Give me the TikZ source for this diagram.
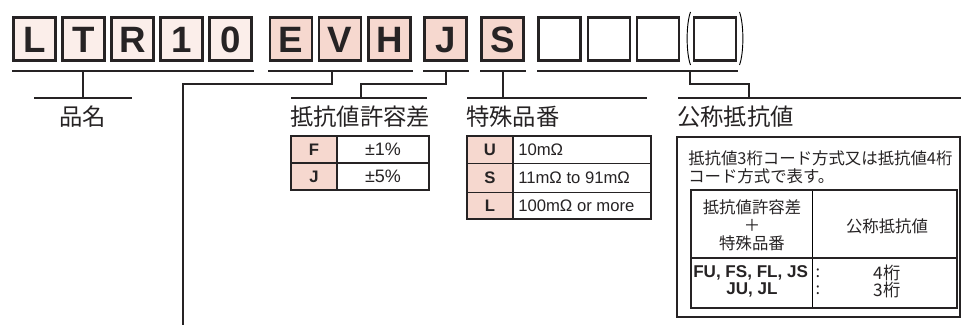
\documentclass[tikz,border=0pt]{standalone}
\usepackage{fontspec}
\setmainfont{Liberation Sans}
\newfontfamily\jp{Noto Sans CJK JP}
\definecolor{pinkA}{HTML}{FBEEEA}
\definecolor{pinkB}{HTML}{F6D8CF}
\definecolor{ink}{HTML}{262324}
\definecolor{thin}{HTML}{8A8A8A}
\begin{document}
\begin{tikzpicture}[x=0.75pt,y=-0.75pt,
  every node/.style={text=ink},
  tb/.style={draw=ink, line width=2.1pt, minimum width=31.6pt, minimum height=32.3pt,
    inner sep=0pt, font=\bfseries\fontsize{27.5}{27.5}\selectfont, text height=19.7pt, text depth=0pt},
  lite/.style={tb, fill=pinkA},
  dark/.style={tb, fill=pinkB},
  empt/.style={tb, fill=white},
  bar/.style={draw=ink, line width=2.1pt},
  conn/.style={draw=ink, line width=1.7pt},
  lab/.style={font=\jp\fontsize{17.5}{17.5}\selectfont, inner sep=0pt},
  cellb/.style={font=\bfseries\fontsize{12.5}{12.5}\selectfont, inner sep=0pt},
  cell/.style={font=\fontsize{12.5}{12.5}\selectfont, inner sep=0pt},
  jps/.style={font=\jp\fontsize{12.3}{12.3}\selectfont, inner sep=0pt},
  tabout/.style={draw=ink, line width=1.5pt},
  tabin/.style={draw=ink, line width=1pt}]
\useasboundingbox (0,0) rectangle (961,327);

% code boxes
\node[lite] (bL) at (34.5,39) {L};
\node[lite] (bT) at (83.5,39) {T};
\node[lite] (bR) at (132.5,39) {R};
\node[lite] (b1) at (181.5,39) {1};
\node[lite] (b0) at (230.5,39) {0};
\node[dark] (bE) at (291,39) {E};
\node[dark] (bV) at (340,39) {V};
\node[dark] (bH) at (389.5,39) {H};
\node[dark] (bJ) at (445.5,39) {J};
\node[dark] (bS) at (502.5,39) {S};
\node[empt] (n1) at (559.5,39) {};
\node[empt] (n2) at (609,39) {};
\node[empt] (n3) at (658,39) {};
\node[empt] (n4) at (715,39) {};
% parentheses
\draw[thin, line width=0.7pt] (690.5,12) .. controls (686,24) and (686,53) .. (690.5,65);
\draw[thin, line width=0.7pt] (739.5,12) .. controls (744,24) and (744,53) .. (739.5,65);

% coordinates
\coordinate (u1a) at (12,71);  \coordinate (u1b) at (254,71);
\coordinate (u2a) at (268,71); \coordinate (u2b) at (413,71);
\coordinate (u3a) at (423,71); \coordinate (u3b) at (469,71);
\coordinate (u4a) at (480,71); \coordinate (u4b) at (526,71);
\coordinate (u5a) at (537,71); \coordinate (u5b) at (738,71);
\coordinate (s1) at (83,71);  \coordinate (s1e) at (83,98);
\coordinate (l1a) at (34,98); \coordinate (l1b) at (132,98);
\coordinate (s2) at (332,71); \coordinate (s2e) at (183,325);
\coordinate (s3) at (446,71); \coordinate (s3e) at (361,98);
\coordinate (l3a) at (291,98); \coordinate (l3b) at (427,98);
\coordinate (s4) at (503,71); \coordinate (s4e) at (503,98);
\coordinate (l4a) at (467,98); \coordinate (l4b) at (647,98);
\coordinate (s5) at (690,71); \coordinate (s5e) at (749,98);
\coordinate (l5a) at (678,98); \coordinate (l5b) at (961,98);

\draw[bar] (u1a) -- (u1b);
\draw[bar] (u2a) -- (u2b);
\draw[bar] (u3a) -- (u3b);
\draw[bar] (u4a) -- (u4b);
\draw[bar] (u5a) -- (u5b);
\draw[bar] (l1a) -- (l1b);
\draw[bar] (l3a) -- (l3b);
\draw[bar] (l4a) -- (l4b);
\draw[bar] (l5a) -- (l5b);
\draw[conn] (s1) -- (s1e);
\draw[conn] (s2) -- (332,84) -- (183,84) -- (s2e);
\draw[conn] (s3) -- (446,84) -- (361,84) -- (s3e);
\draw[conn] (s4) -- (s4e);
\draw[conn] (s5) -- (690,84) -- (749,84) -- (s5e);

% labels
\node[lab] (t1) at (83,117) {品名};
\node[lab, anchor=west] (t3) at (290,117) {抵抗値許容差};
\node[lab, anchor=west] (t4) at (466,117) {特殊品番};
\node[lab, anchor=west] (t5) at (677,117) {公称抵抗値};

% table 1
\fill[pinkB] (291,136) rectangle (337,190);
\draw[tabin] (291,163) -- (429,163);
\draw[tabin] (337,136) -- (337,190);
\draw[tabout] (291,136) rectangle (429,190);
\node[cellb] (f1) at (314,149.5) {F};
\node[cell, font=\fontsize{13.5}{13.5}\selectfont] (f2) at (383,149.5) {±1\%};
\node[cellb] (j1) at (314,176.5) {J};
\node[cell, font=\fontsize{13.5}{13.5}\selectfont] (j2) at (383,176.5) {±5\%};

% table 2
\fill[pinkB] (467,136) rectangle (513,219);
\draw[tabin] (467,163.3) -- (651,163.3);
\draw[tabin] (467,192.3) -- (651,192.3);
\draw[tabin] (513,136) -- (513,219);
\draw[tabout] (467,136) rectangle (651,219);
\node[cellb] (uu) at (490,149.7) {U};
\node[cell, anchor=west] (uv) at (518,149.7) {10mΩ};
\node[cellb] (ss) at (490,177.8) {S};
\node[cell, anchor=west] (sv) at (518,177.8) {11mΩ to 91mΩ};
\node[cellb] (ll) at (490,205.8) {L};
\node[cell, anchor=west] (lv) at (518,205.8) {100mΩ or more};

% box 3
\draw[tabout] (677,137) rectangle (960,317);
\node[jps, anchor=west] (d1) at (688,158) {抵抗値3桁コード方式又は抵抗値4桁};
\node[jps, anchor=west] (d2) at (688,176) {コード方式で表す。};
\draw[thin, line width=0.6pt] (812,190) -- (812,308);
\draw[tabin] (691,258) -- (957,258);
\draw[tabout] (691,190) rectangle (957,308);
\node[jps] (h1) at (752,207) {抵抗値許容差};
\node[jps] (h2) at (752,225.5) {＋};
\node[jps] (h3) at (752,243) {特殊品番};
\node[jps] (h4) at (887,226) {公称抵抗値};
\node[cellb, anchor=west, font=\bfseries\fontsize{12.8}{12.8}\selectfont] (r1) at (693,273) {FU, FS, FL, JS};
\node[jps] (r1c) at (818,273) {:};
\node[jps, font=\jp\fontsize{13}{13}\selectfont] (r1v) at (887,273) {4桁};
\node[cellb, font=\bfseries\fontsize{12.8}{12.8}\selectfont] (r2) at (752,290) {JU, JL};
\node[jps] (r2c) at (818,290) {:};
\node[jps, font=\jp\fontsize{13}{13}\selectfont] (r2v) at (887,290) {3桁};
\end{tikzpicture}
\end{document}
